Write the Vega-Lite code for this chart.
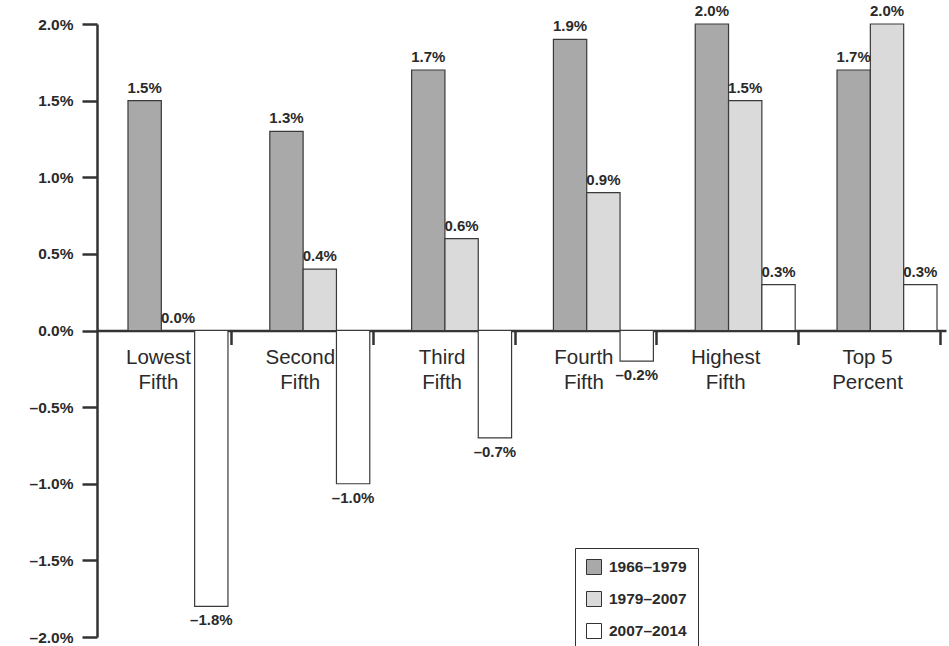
{
  "$schema": "https://vega.github.io/schema/vega-lite/v6.json",
  "width": 849,
  "height": 613,
  "autosize": {"type": "none"},
  "padding": {"left": 97, "top": 24, "right": 3, "bottom": 9},
  "background": "white",
  "config": {
    "view": {"stroke": null},
    "font": "Liberation Sans",
    "text": {"font": "Liberation Sans"}
  },
  "data": {
    "values": [
      {"group": "Lowest Fifth", "period": "1966–1979", "v": 1.5},
      {"group": "Lowest Fifth", "period": "1979–2007", "v": 0.0},
      {"group": "Lowest Fifth", "period": "2007–2014", "v": -1.8},
      {"group": "Second Fifth", "period": "1966–1979", "v": 1.3},
      {"group": "Second Fifth", "period": "1979–2007", "v": 0.4},
      {"group": "Second Fifth", "period": "2007–2014", "v": -1.0},
      {"group": "Third Fifth", "period": "1966–1979", "v": 1.7},
      {"group": "Third Fifth", "period": "1979–2007", "v": 0.6},
      {"group": "Third Fifth", "period": "2007–2014", "v": -0.7},
      {"group": "Fourth Fifth", "period": "1966–1979", "v": 1.9},
      {"group": "Fourth Fifth", "period": "1979–2007", "v": 0.9},
      {"group": "Fourth Fifth", "period": "2007–2014", "v": -0.2},
      {"group": "Highest Fifth", "period": "1966–1979", "v": 2.0},
      {"group": "Highest Fifth", "period": "1979–2007", "v": 1.5},
      {"group": "Highest Fifth", "period": "2007–2014", "v": 0.3},
      {"group": "Top 5 Percent", "period": "1966–1979", "v": 1.7},
      {"group": "Top 5 Percent", "period": "1979–2007", "v": 2.0},
      {"group": "Top 5 Percent", "period": "2007–2014", "v": 0.3}
    ]
  },
  "transform": [
    {"calculate": "(datum.v < 0 ? '–' : '') + format(abs(datum.v), '.1f') + '%'", "as": "label"}
  ],
  "encoding": {
    "x": {
      "field": "group",
      "type": "nominal",
      "sort": null,
      "scale": {"paddingInner": 0.295, "paddingOuter": 0.141, "align": 0.775},
      "axis": {
        "title": null,
        "orient": "bottom",
        "offset": -306.5,
        "labelAngle": 0,
        "bandPosition": 1,
        "tickOffset": 3,
        "labelOffset": -23,
        "labelExpr": "datum.value == 'Top 5 Percent' ? ['Top 5', 'Percent'] : split(datum.value, ' ')",
        "labelFont": "Liberation Sans",
        "labelFontSize": 20.5,
        "labelLineHeight": 25,
        "labelColor": "#2a2a2a",
        "labelPadding": 3,
        "labelBaseline": "top",
        "domainColor": "#333333",
        "domainWidth": 2.5,
        "tickColor": "#333333",
        "tickWidth": 2.5,
        "tickSize": 14
      }
    },
    "xOffset": {
      "field": "period",
      "type": "nominal",
      "sort": null,
      "scale": {"paddingInner": 0, "paddingOuter": 0}
    },
    "y": {
      "field": "v",
      "type": "quantitative",
      "scale": {"domain": [-2, 2], "nice": false, "zero": false},
      "axis": {
        "title": null,
        "values": [-2, -1.5, -1, -0.5, 0, 0.5, 1, 1.5, 2],
        "labelExpr": "(datum.value < 0 ? '–' : '') + format(abs(datum.value), '.1f') + '%'",
        "grid": false,
        "labelFont": "Liberation Sans",
        "labelFontSize": 15.5,
        "labelFontWeight": "bold",
        "labelColor": "#2a2a2a",
        "labelPadding": 9,
        "domainColor": "#333333",
        "domainWidth": 2.5,
        "tickColor": "#333333",
        "tickWidth": 2.5,
        "tickSize": 15
      }
    }
  },
  "layer": [
    {
      "mark": {"type": "bar", "stroke": "#3a3a3a", "strokeWidth": 1.2},
      "encoding": {
        "fill": {
          "field": "period",
          "type": "nominal",
          "scale": {
            "domain": ["1966–1979", "1979–2007", "2007–2014"],
            "range": ["#a9a9a9", "#dadada", "#ffffff"]
          },
          "legend": {
            "title": null,
            "orient": "none",
            "legendX": 478,
            "legendY": 524,
            "fillColor": "white",
            "strokeColor": "#333333",
            "padding": 11,
            "symbolType": "square",
            "symbolSize": 225,
            "symbolStrokeColor": "#333333",
            "symbolStrokeWidth": 1,
            "symbolOpacity": 1,
            "labelFont": "Liberation Sans",
            "labelFontSize": 15.5,
            "labelFontWeight": "bold",
            "labelColor": "#2a2a2a",
            "labelOffset": 7,
            "rowPadding": 12
          }
        }
      }
    },
    {
      "transform": [{"filter": "datum.v >= 0"}],
      "mark": {"type": "text", "fontSize": 15, "fontWeight": "bold", "color": "#2a2a2a", "baseline": "alphabetic", "dy": -8},
      "encoding": {"text": {"field": "label"}}
    },
    {
      "transform": [{"filter": "datum.v < 0"}],
      "mark": {"type": "text", "fontSize": 15, "fontWeight": "bold", "color": "#2a2a2a", "baseline": "top", "dy": 7},
      "encoding": {"text": {"field": "label"}}
    }
  ]
}
